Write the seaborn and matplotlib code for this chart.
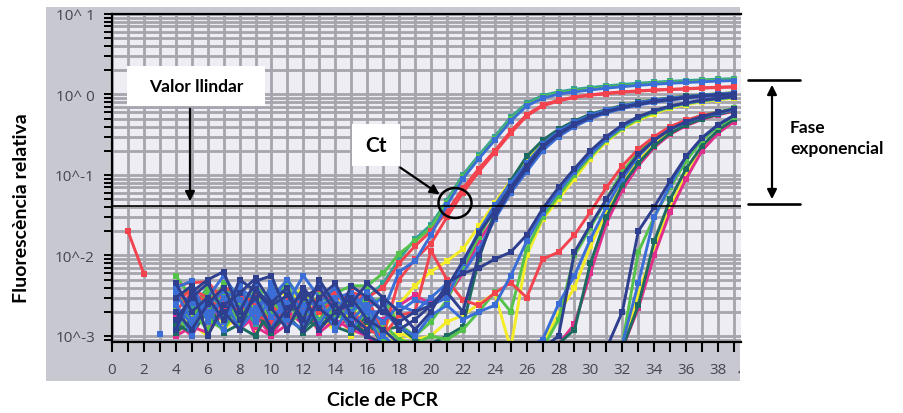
import numpy as np
import pandas as pd
import matplotlib
matplotlib.use("Agg")
import matplotlib.pyplot as plt
import seaborn as sns
from matplotlib.patches import Rectangle, Ellipse, FancyArrowPatch
from matplotlib.lines import Line2D
from matplotlib.ticker import (MultipleLocator, FixedLocator, FixedFormatter,
                               LogLocator, NullFormatter)
from matplotlib.transforms import Bbox, TransformedBbox

# ------------------------------------------------------------------
# Amplification data: relative fluorescence per PCR cycle (cycles 4..39)
# ------------------------------------------------------------------
cycles = list(range(4, 40))
threshold = 0.041

# early readings of one well (cycles 1-2) and a single point at cycle 3
early_cycles = [1, 2]
early_red = [0.020, 0.0059]
early_blue_cycle = [3]
early_blue = [0.00105]

# group crossing threshold near cycle 21
a_teal = [0.0030, 0.0022, 0.0040, 0.0018, 0.0026, 0.0014, 0.0033, 0.0021, 0.0028, 0.0016, 0.0024, 0.0019, 0.0030,
          0.0045, 0.0090, 0.0160, 0.0240, 0.048, 0.100, 0.175, 0.30, 0.52, 0.78, 0.97, 1.08, 1.16, 1.22, 1.28,
          1.33, 1.38, 1.42, 1.46, 1.49, 1.52, 1.55, 1.57]
a_green = [0.0056, 0.0030, 0.0020, 0.0045, 0.0012, 0.0036, 0.0020, 0.0050, 0.0026, 0.0014, 0.0034, 0.0042, 0.0042,
           0.0060, 0.0105, 0.0150, 0.0220, 0.045, 0.095, 0.165, 0.28, 0.49, 0.74, 0.93, 1.04, 1.11, 1.17, 1.23,
           1.28, 1.33, 1.37, 1.41, 1.44, 1.47, 1.50, 1.52]
a_blue = [0.0040, 0.0048, 0.0015, 0.0030, 0.0022, 0.0044, 0.0017, 0.0026, 0.0056, 0.0030, 0.0012, 0.0025, 0.0020,
          0.0020, 0.0063, 0.0085, 0.0180, 0.042, 0.090, 0.160, 0.27, 0.47, 0.72, 0.90, 1.01, 1.08, 1.14, 1.20,
          1.25, 1.30, 1.34, 1.38, 1.41, 1.44, 1.47, 1.49]
a_red = [0.0042, 0.0046, 0.0047, 0.0028, 0.0020, 0.0034, 0.0024, 0.0015, 0.0022, 0.0030, 0.0034, 0.0026, 0.0032,
         0.0010, 0.0050, 0.0090, 0.0140, 0.030, 0.060, 0.110, 0.19, 0.33, 0.54, 0.72, 0.83, 0.92, 0.98, 1.02,
         1.07, 1.10, 1.13, 1.15, 1.17, 1.20, 1.22, 1.24]
a_red2 = [0.0020, 0.0035, 0.0026, 0.0040, 0.0034, 0.0018, 0.0015, 0.0030, 0.0024, 0.0020, 0.0028, 0.0035, 0.0030,
          0.0040, 0.0080, 0.0131, 0.0200, 0.035, 0.068, 0.120, 0.20, 0.35, 0.56, 0.74, 0.85, 0.93, 0.99, 1.04,
          1.08, 1.11, 1.14, 1.16, 1.18, 1.21, 1.23, 1.25]

# group crossing threshold near cycle 24
b_navy = [0.0012, 0.0035, 0.0050, 0.0063, 0.0020, 0.0048, 0.0056, 0.0018, 0.0040, 0.0022, 0.0015, 0.0042, 0.0030,
          0.0020, 0.0015, 0.0020, 0.0024, 0.0040, 0.0085, 0.019, 0.036, 0.070, 0.13, 0.23, 0.33, 0.43, 0.53,
          0.61, 0.69, 0.76, 0.82, 0.87, 0.92, 0.96, 0.99, 1.02]
b_navy2 = [0.0030, 0.0042, 0.0010, 0.0024, 0.0034, 0.0052, 0.0026, 0.0040, 0.0012, 0.0030, 0.0045, 0.0018, 0.0012,
           0.0025, 0.0012, 0.0016, 0.0024, 0.0035, 0.0020, 0.010, 0.030, 0.065, 0.12, 0.22, 0.32, 0.42, 0.52,
           0.61, 0.69, 0.76, 0.82, 0.87, 0.92, 0.96, 0.99, 1.01]
b_blue = [0.0025, 0.0010, 0.0030, 0.0015, 0.0040, 0.0028, 0.0012, 0.0036, 0.0020, 0.0045, 0.0026, 0.0012, 0.0022,
          0.0030, 0.0020, 0.0028, 0.0024, 0.0030, 0.0080, 0.020, 0.042, 0.080, 0.14, 0.24, 0.35, 0.45, 0.55,
          0.64, 0.72, 0.79, 0.85, 0.90, 0.94, 0.98, 1.01, 1.04]
b_blue2 = [0.0034, 0.0016, 0.0024, 0.0036, 0.0028, 0.0020, 0.0040, 0.0034, 0.0015, 0.0024, 0.0030, 0.0034, 0.0022,
           0.0015, 0.0024, 0.0020, 0.0030, 0.0045, 0.0060, 0.012, 0.028, 0.060, 0.11, 0.20, 0.30, 0.40, 0.50,
           0.59, 0.67, 0.74, 0.80, 0.85, 0.90, 0.94, 0.97, 1.00]
b_yellow = [0.0010, 0.0020, 0.0028, 0.0037, 0.0024, 0.0016, 0.0045, 0.0030, 0.0018, 0.0012, 0.0022, 0.0010, 0.0016,
            0.0012, 0.0025, 0.0042, 0.0063, 0.0085, 0.0120, 0.023, 0.045, 0.085, 0.15, 0.25, 0.36, 0.46, 0.56,
            0.65, 0.73, 0.80, 0.86, 0.91, 0.95, 0.99, 1.02, 1.05]
b_magenta = [0.0018, 0.0025, 0.0012, 0.0022, 0.0030, 0.0010, 0.0026, 0.0020, 0.0014, 0.0028, 0.0018, 0.0022, 0.0012,
             0.0016, 0.0024, 0.0032, 0.0025, 0.0030, 0.0060, 0.015, 0.030, 0.065, 0.12, 0.21, 0.31, 0.41, 0.51,
             0.60, 0.68, 0.75, 0.81, 0.86, 0.91, 0.95, 0.98, 1.00]
b_green = [0.0016, 0.0012, 0.0034, 0.0026, 0.0014, 0.0040, 0.0030, 0.0012, 0.0035, 0.0024, 0.0018, 0.0016, 0.0025,
           0.0030, 0.0014, 0.0010, 0.0015, 0.0028, 0.0070, 0.017, 0.038, 0.075, 0.14, 0.23, 0.34, 0.44, 0.54,
           0.63, 0.71, 0.78, 0.84, 0.89, 0.93, 0.97, 1.00, 1.03]
b_teal = [0.0013, 0.0022, 0.0018, 0.0012, 0.0030, 0.0020, 0.0011, 0.0025, 0.0016, 0.0013, 0.0020, 0.0014, 0.0011,
          0.0012, 0.0013, 0.0009, 0.0008, 0.0010, 0.0013, 0.0090, 0.035, 0.085, 0.17, 0.27, 0.37, 0.47, 0.57,
          0.65, 0.73, 0.80, 0.86, 0.91, 0.95, 0.99, 1.02, 1.05]

# group crossing threshold near cycle 27
c_green = [0.0022, 0.0016, 0.0040, 0.0033, 0.0018, 0.0024, 0.0038, 0.0014, 0.0020, 0.0032, 0.0022, 0.0030, 0.0018,
           0.0014, 0.0009, 0.0008, 0.0010, 0.0009, 0.0012, 0.0020, 0.0035, 0.0020, 0.012, 0.030, 0.055, 0.10,
           0.17, 0.27, 0.38, 0.50, 0.60, 0.70, 0.77, 0.83, 0.88, 0.92]
c_blue = [0.0035, 0.0026, 0.0020, 0.0012, 0.0045, 0.0015, 0.0030, 0.0050, 0.0024, 0.0014, 0.0028, 0.0020, 0.0035,
          0.0020, 0.0013, 0.0010, 0.0018, 0.0024, 0.0016, 0.0020, 0.0024, 0.0056, 0.015, 0.034, 0.062, 0.11,
          0.18, 0.28, 0.40, 0.52, 0.62, 0.71, 0.78, 0.84, 0.89, 0.93]
c_navy = [0.0045, 0.0020, 0.0030, 0.0016, 0.0050, 0.0036, 0.0022, 0.0012, 0.0030, 0.0040, 0.0020, 0.0025, 0.0045,
          0.0030, 0.0020, 0.0012, 0.0020, 0.0045, 0.0060, 0.0070, 0.0090, 0.011, 0.018, 0.038, 0.070, 0.12,
          0.20, 0.30, 0.42, 0.53, 0.63, 0.72, 0.79, 0.85, 0.90, 0.94]
c_yellow = [0.0016, 0.0030, 0.0022, 0.0012, 0.0018, 0.0040, 0.0020, 0.0015, 0.0026, 0.0018, 0.0012, 0.0024, 0.0014,
            0.0010, 0.0011, 0.0009, 0.0010, 0.0015, 0.0018, 0.0025, 0.0034, 0.0007, 0.010, 0.028, 0.050, 0.090,
            0.16, 0.26, 0.37, 0.48, 0.58, 0.68, 0.75, 0.81, 0.86, 0.90]
c_red = [0.0026, 0.0038, 0.0030, 0.0020, 0.0034, 0.0024, 0.0015, 0.0020, 0.0030, 0.0038, 0.0024, 0.0020, 0.0012,
         0.0010, 0.0018, 0.0020, 0.0115, 0.0050, 0.0028, 0.0024, 0.0034, 0.0046, 0.0030, 0.0090, 0.011, 0.018,
         0.035, 0.070, 0.13, 0.21, 0.30, 0.40, 0.48, 0.55, 0.60, 0.64]

# group crossing threshold near cycle 30-31
d_navy = [0.0020, 0.0012, 0.0025, 0.0040, 0.0016, 0.0030, 0.0012, 0.0022, 0.0034, 0.0012, 0.0020, 0.0030, 0.0016,
          0.0012, 0.0008, 0.0007, 0.0008, 0.0007, 0.0006, 0.0007, 0.0006, 0.0007, 0.0008, 0.0007,
          0.0010, 0.011, 0.024, 0.050, 0.10, 0.18, 0.27, 0.37, 0.46, 0.53, 0.60, 0.66]
d_blue = [0.0012, 0.0028, 0.0018, 0.0030, 0.0012, 0.0022, 0.0035, 0.0016, 0.0012, 0.0026, 0.0040, 0.0016, 0.0024,
          0.0010, 0.0007, 0.0006, 0.0007, 0.0008, 0.0007, 0.0006, 0.0007, 0.0008, 0.0007, 0.0009,
          0.0025, 0.0056, 0.016, 0.040, 0.090, 0.17, 0.27, 0.37, 0.45, 0.53, 0.59, 0.65]
d_yellow = [0.0020, 0.0014, 0.0010, 0.0024, 0.0034, 0.0012, 0.0018, 0.0026, 0.0040, 0.0016, 0.0012, 0.0020, 0.0010,
            0.0008, 0.0010, 0.0007, 0.0006, 0.0007, 0.0006, 0.0008, 0.0007, 0.0006, 0.0007, 0.0008,
            0.0019, 0.0040, 0.013, 0.035, 0.080, 0.15, 0.24, 0.34, 0.43, 0.51, 0.57, 0.63]
d_magenta = [0.0015, 0.0010, 0.0022, 0.0016, 0.0026, 0.0013, 0.0010, 0.0020, 0.0015, 0.0030, 0.0012, 0.0018, 0.0010,
             0.0008, 0.0007, 0.0006, 0.0007, 0.0006, 0.0007, 0.0008, 0.0006, 0.0007, 0.0006, 0.0007,
             0.0008, 0.0014, 0.006, 0.025, 0.065, 0.13, 0.22, 0.32, 0.41, 0.49, 0.56, 0.62]
d_green = [0.0028, 0.0040, 0.0016, 0.0012, 0.0024, 0.0034, 0.0014, 0.0028, 0.0018, 0.0022, 0.0030, 0.0012, 0.0020,
           0.0009, 0.0007, 0.0008, 0.0007, 0.0006, 0.0007, 0.0006, 0.0008, 0.0007, 0.0006, 0.0007,
           0.0016, 0.010, 0.022, 0.050, 0.11, 0.19, 0.29, 0.39, 0.47, 0.55, 0.61, 0.67]
d_teal = [0.0011, 0.0016, 0.0026, 0.0011, 0.0014, 0.0022, 0.0012, 0.0018, 0.0011, 0.0016, 0.0025, 0.0012, 0.0015,
          0.0008, 0.0006, 0.0007, 0.0006, 0.0007, 0.0008, 0.0006, 0.0007, 0.0006, 0.0007, 0.0006,
          0.0008, 0.0012, 0.008, 0.030, 0.075, 0.14, 0.23, 0.33, 0.42, 0.50, 0.57, 0.63]

# group crossing threshold near cycle 34
e_navy = [0.0016, 0.0030, 0.0045, 0.0020, 0.0012, 0.0038, 0.0024, 0.0032, 0.0016, 0.0050, 0.0024, 0.0014, 0.0010,
          0.0008, 0.0007, 0.0006, 0.0007, 0.0006, 0.0007, 0.0008, 0.0006, 0.0007, 0.0006, 0.0007, 0.0006,
          0.0007, 0.0008, 0.0007, 0.0020, 0.020, 0.040, 0.085, 0.17, 0.29, 0.42, 0.55]
e_blue = [0.0024, 0.0014, 0.0030, 0.0056, 0.0028, 0.0016, 0.0045, 0.0012, 0.0030, 0.0022, 0.0016, 0.0034, 0.0020,
          0.0007, 0.0006, 0.0007, 0.0008, 0.0006, 0.0007, 0.0006, 0.0007, 0.0008, 0.0006, 0.0007, 0.0006,
          0.0007, 0.0006, 0.0007, 0.0008, 0.0045, 0.030, 0.075, 0.17, 0.29, 0.42, 0.55]
e_yellow = [0.0012, 0.0018, 0.0030, 0.0014, 0.0045, 0.0020, 0.0012, 0.0034, 0.0022, 0.0012, 0.0035, 0.0016, 0.0022,
            0.0006, 0.0007, 0.0008, 0.0006, 0.0007, 0.0006, 0.0007, 0.0008, 0.0006, 0.0007, 0.0006, 0.0007,
            0.0008, 0.0006, 0.0007, 0.0007, 0.0034, 0.012, 0.040, 0.10, 0.21, 0.34, 0.47]
e_teal = [0.0014, 0.0011, 0.0020, 0.0028, 0.0013, 0.0010, 0.0024, 0.0016, 0.0012, 0.0020, 0.0013, 0.0011, 0.0018,
          0.0007, 0.0006, 0.0007, 0.0008, 0.0006, 0.0007, 0.0006, 0.0007, 0.0008, 0.0006, 0.0007, 0.0006,
          0.0007, 0.0006, 0.0008, 0.0007, 0.0024, 0.015, 0.050, 0.12, 0.23, 0.36, 0.49]
e_green = [0.0034, 0.0020, 0.0012, 0.0042, 0.0024, 0.0016, 0.0030, 0.0045, 0.0014, 0.0026, 0.0040, 0.0022, 0.0030,
           0.0008, 0.0007, 0.0006, 0.0007, 0.0008, 0.0006, 0.0007, 0.0006, 0.0007, 0.0008, 0.0006, 0.0007,
           0.0006, 0.0007, 0.0006, 0.0008, 0.011, 0.030, 0.070, 0.15, 0.27, 0.40, 0.53]
e_magenta = [0.0010, 0.0013, 0.0011, 0.0020, 0.0012, 0.0018, 0.0010, 0.0014, 0.0024, 0.0011, 0.0016, 0.0012, 0.0010,
             0.0006, 0.0007, 0.0006, 0.0008, 0.0007, 0.0006, 0.0007, 0.0006, 0.0008, 0.0007, 0.0006, 0.0007,
             0.0006, 0.0007, 0.0006, 0.0007, 0.0022, 0.010, 0.035, 0.09, 0.20, 0.33, 0.46]

# dye colours
RED = "#f2434f"
GREEN = "#55c24c"
BLUE = "#3a6ed6"
NAVY = "#2d3f8e"
TEAL = "#33a394"
DTEAL = "#1d6b60"
YELLOW = "#f3ec26"
MAGENTA = "#e12e8c"

# drawing order: first entries end up underneath
wells = [
    ("b_yellow", b_yellow, YELLOW), ("c_yellow", c_yellow, YELLOW), ("d_yellow", d_yellow, YELLOW),
    ("e_yellow", e_yellow, YELLOW), ("b_magenta", b_magenta, MAGENTA), ("d_magenta", d_magenta, MAGENTA),
    ("e_magenta", e_magenta, MAGENTA), ("b_teal", b_teal, DTEAL), ("d_teal", d_teal, DTEAL),
    ("e_teal", e_teal, DTEAL), ("a_teal", a_teal, TEAL), ("a_green", a_green, GREEN),
    ("b_green", b_green, GREEN), ("c_green", c_green, GREEN), ("d_green", d_green, GREEN),
    ("e_green", e_green, GREEN), ("a_red", a_red, RED), ("a_red2", a_red2, RED), ("c_red", c_red, RED),
    ("a_blue", a_blue, BLUE), ("b_blue", b_blue, BLUE), ("b_blue2", b_blue2, BLUE), ("c_blue", c_blue, BLUE),
    ("d_blue", d_blue, BLUE), ("e_blue", e_blue, BLUE), ("b_navy", b_navy, NAVY), ("b_navy2", b_navy2, NAVY),
    ("c_navy", c_navy, NAVY), ("d_navy", d_navy, NAVY), ("e_navy", e_navy, NAVY),
]

rows = []
for name, vals, _ in wells:
    assert len(vals) == len(cycles), name
    rows += [(name, c, v) for c, v in zip(cycles, vals)]
rows += [("early_red", c, v) for c, v in zip(early_cycles, early_red)]
rows += [("early_blue", c, v) for c, v in zip(early_blue_cycle, early_blue)]
df = pd.DataFrame(rows, columns=["well", "cycle", "fluor"])

order = [n for n, _, _ in wells] + ["early_red", "early_blue"]
palette = {n: col for n, _, col in wells}
palette["early_red"] = RED
palette["early_blue"] = BLUE

# ------------------------------------------------------------------
# Figure
# ------------------------------------------------------------------
sns.set_style("ticks")
plt.rcParams["font.family"] = ["Open Sans", "DejaVu Sans"]
plt.rcParams["xtick.bottom"] = True
plt.rcParams["ytick.left"] = True

W, H = 904, 414
fig = plt.figure(figsize=(W / 100, H / 100), dpi=100)
fig.patch.set_facecolor("white")


def fx(x):
    return x / W


def fy(y):
    return 1 - y / H


# grey instrument-screen panel behind the plot
fig.patches.append(Rectangle((fx(46), fy(382)), fx(740) - fx(46), fy(8) - fy(382),
                             transform=fig.transFigure, facecolor="#c8c8d0",
                             edgecolor="none", zorder=-5))

ax = fig.add_axes([fx(112), fy(343), fx(741) - fx(112), fy(15) - fy(343)])
ax.set_zorder(1)
ax.set_facecolor("#ededf3")
ax.set_yscale("log")

sns.lineplot(data=df, x="cycle", y="fluor", hue="well", hue_order=order, palette=palette,
             style="well", style_order=order, markers={n: "s" for n in order}, dashes=False,
             estimator=None, sort=False, legend=False, lw=2.1, markersize=4.8,
             markeredgewidth=0, ax=ax)

ax.set_xlim(0, 39.44)
ax.set_ylim(10 ** -3.075, 10)
ax.set_xlabel("")
ax.set_ylabel("")

ax.xaxis.set_major_locator(MultipleLocator(2))
ax.xaxis.set_minor_locator(MultipleLocator(1))
ax.yaxis.set_major_locator(FixedLocator([1e-3, 1e-2, 1e-1, 1, 10]))
ax.yaxis.set_major_formatter(FixedFormatter(["10^-3", "10^-2", "10^-1", "10^ 0", "10^ 1"]))
ax.yaxis.set_minor_locator(LogLocator(base=10, subs=np.arange(2, 10), numticks=30))
ax.yaxis.set_minor_formatter(NullFormatter())

gridc = "#a6a4ad"
ax.grid(True, which="both", axis="both", color=gridc, lw=2.0)
ax.set_axisbelow(True)

ax.tick_params(axis="x", which="both", bottom=True, top=False, direction="out", length=7.0,
               width=1.5, color="black", pad=7.5, labelsize=11, labelcolor="#45454d")
ax.tick_params(axis="y", which="both", left=True, right=False, direction="out", length=5.8,
               width=1.4, color="black", pad=6.5, labelsize=11, labelcolor="#45454d")

for side in ["left", "bottom", "top"]:
    ax.spines[side].set_linewidth(1.6)
    ax.spines[side].set_color("black")
ax.spines["right"].set_visible(False)

# threshold line
ax.axhline(threshold, color="black", lw=1.2, zorder=5)

# partially visible "40" at the clipped right edge of the panel
t40 = fig.text(fx(746), fy(373), "40", ha="center", va="center", fontsize=11, color="#45454d", zorder=2)
t40.set_clip_box(TransformedBbox(Bbox([[fx(46), fy(382)], [fx(740), fy(8)]]), fig.transFigure))
t40.set_clip_on(True)

# ------------------------------------------------------------------
# Annotations (drawn above the axes)
# ------------------------------------------------------------------
bold = dict(family=["Lato", "DejaVu Sans"], weight="bold", color="black")
Z = 10

fig.text(fx(22), fy(208), "Fluorescència relativa", rotation=90, ha="center", va="center",
         fontsize=14, zorder=Z, **bold)
fig.text(fx(383), fy(401), "Cicle de PCR", ha="center", va="center", fontsize=14, zorder=Z, **bold)

# threshold label
fig.patches.append(Rectangle((fx(127), fy(107)), fx(265) - fx(127), fy(67) - fy(107),
                             transform=fig.transFigure, facecolor="white", edgecolor="none", zorder=Z))
fig.text(fx(196), fy(87), "Valor llindar", ha="center", va="center", fontsize=12.5, zorder=Z + 1, **bold)
fig.patches.append(FancyArrowPatch((fx(190), fy(107)), (fx(190), fy(205)), transform=fig.transFigure,
                                   arrowstyle="-|>", mutation_scale=14, lw=1.6, color="black", zorder=Z + 1))

# Ct label
fig.patches.append(Rectangle((fx(352), fy(167)), fx(400) - fx(352), fy(125) - fy(167),
                             transform=fig.transFigure, facecolor="white", edgecolor="none", zorder=Z))
fig.text(fx(376), fy(146), "Ct", ha="center", va="center", fontsize=15, zorder=Z + 1, **bold)
fig.patches.append(FancyArrowPatch((fx(398), fy(167)), (fx(442), fy(197)), transform=fig.transFigure,
                                   arrowstyle="-|>", mutation_scale=14, lw=1.6, color="black", zorder=Z + 1))
fig.patches.append(Ellipse((fx(455), fy(204)), 33 / W, 30 / H, transform=fig.transFigure,
                           facecolor="none", edgecolor="black", lw=1.8, zorder=Z + 1))

# exponential phase bracket
for yb in (81, 205):
    fig.lines.append(Line2D([fx(748), fx(800)], [fy(yb), fy(yb)], transform=fig.transFigure,
                            color="black", lw=1.9, zorder=Z))
fig.patches.append(FancyArrowPatch((fx(772), fy(83)), (fx(772), fy(203)), transform=fig.transFigure,
                                   arrowstyle="<|-|>", mutation_scale=14, lw=1.6, color="black", zorder=Z))
fig.text(fx(790), fy(128), "Fase", ha="left", va="center", fontsize=12.5, zorder=Z, **bold)
fig.text(fx(790), fy(149), "exponencial", ha="left", va="center", fontsize=12.5, zorder=Z, **bold)

fig.savefig("out.png", dpi=100)
